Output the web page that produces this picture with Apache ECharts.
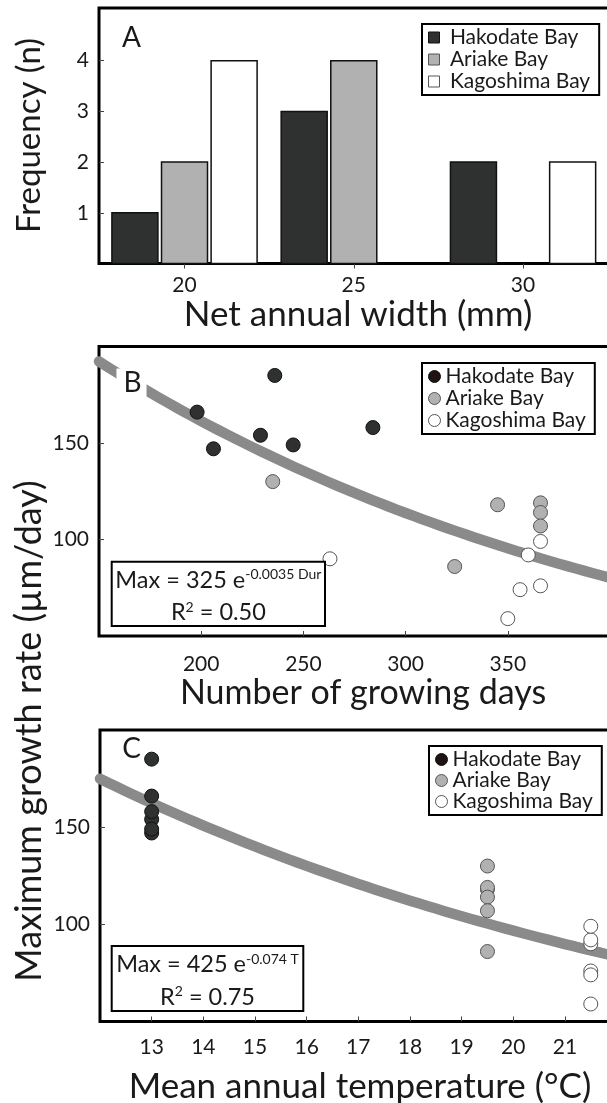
<!DOCTYPE html>
<html>
<head>
<meta charset="utf-8">
<script src="https://cdn.jsdelivr.net/npm/echarts@6/dist/echarts.min.js"></script>
<style>
  html, body { margin: 0; padding: 0; background: #fff; }
  #chart { width: 607px; height: 1103px; }
</style>
</head>
<body>
<div id="chart"></div>
<script>
// ---- Panel A: frequency of net annual width ----
const widthBins = [20, 25, 30];
const hakodateCounts = [1, 3, 2];
const ariakeCounts = [2, 4, 0];
const kagoshimaCounts = [4, 0, 2];
const countTicks = [1, 2, 3, 4];

// ---- Panels B & C: maximum growth rate (µm/day) per specimen ----
const hakodateRate = [166, 147, 185, 154, 149, 158];
const hakodateDays = [198, 206, 236, 229, 245, 284];
const ariakeRate = [130, 118, 86, 119, 114, 107];
const ariakeDays = [235, 345, 324, 366, 366, 366];
const kagoshimaRate = [90, 92, 99, 76, 74, 59];
const kagoshimaDays = [263, 360, 366, 366, 356, 350];
// mean annual temperature of each bay (°C): Hakodate, Ariake, Kagoshima
const siteTemp = [13, 19.5, 21.5];

const dayTicks = [200, 250, 300, 350];
const tempTicks = [13, 14, 15, 16, 17, 18, 19, 20, 21];
const rateTicks = [100, 150];

// exponential regressions: Max = a * e^(k * x)
const fitDays = [325, -0.0035];
const fitDaysR2 = '0.50';
const fitTemp = [425, -0.074];
const fitTempR2 = '0.75';

const FONT = 'Lato';
const INK = '#1a1a1a';
const C_HAK = '#2f3130';
const C_ARI = '#b1b1b1';
const C_KAG = '#ffffff';

// grouped bar geometry (pixels)
const BAR_W = 46;
const BAR_PITCH = 49.6;

function fitCurve(coef, lo, hi, steps) {
  const pts = [];
  for (let i = 0; i <= steps; i++) {
    const x = lo + (hi - lo) * i / steps;
    pts.push([x, coef[0] * Math.exp(coef[1] * x)]);
  }
  return pts;
}
const pairs = (xs, ys) => xs.map((x, i) => [x, ys[i]]);

function xAx(grid, min, max, ticks, inside, margin) {
  return {
    gridIndex: grid, type: 'value', min: min, max: max,
    axisLine: { show: false },
    splitLine: { show: false },
    axisTick: { show: true, inside: inside, length: 5, customValues: ticks,
                lineStyle: { color: '#444', width: 1 } },
    axisLabel: { customValues: ticks, margin: margin, fontFamily: FONT,
                 fontSize: 21, color: INK }
  };
}
function yAx(grid, min, max, ticks) {
  return {
    gridIndex: grid, type: 'value', min: min, max: max,
    axisLine: { show: false },
    splitLine: { show: false },
    axisTick: { show: true, inside: true, length: 5, customValues: ticks,
                lineStyle: { color: '#444', width: 1 } },
    axisLabel: { customValues: ticks, margin: 10, fontFamily: FONT,
                 fontSize: 21, color: INK }
  };
}

// plot frames run past the right edge of the page, so keep their exact size
const gridStyle = { show: true, borderColor: '#000', borderWidth: 3, backgroundColor: 'transparent',
                    containLabel: false, outerBoundsMode: 'none' };

// one bar per bin, shifted sideways by its slot in the group (-1, 0, +1)
function barSeries(name, counts, color, slot) {
  return {
    type: 'custom', name: name, xAxisIndex: 0, yAxisIndex: 0,
    data: pairs(widthBins, counts),
    encode: { x: 0, y: 1 },
    renderItem: function (params, api) {
      const v = api.value(1);
      if (!v) return null;
      const base = api.coord([api.value(0), 0]);
      const top = api.coord([api.value(0), v]);
      const cx = base[0] + slot * BAR_PITCH;
      return {
        type: 'rect',
        shape: { x: cx - BAR_W / 2, y: top[1], width: BAR_W, height: base[1] - top[1] },
        style: { fill: color, stroke: '#111', lineWidth: 1.5 }
      };
    }
  };
}
function dotSeries(name, grid, data, color, border) {
  return {
    type: 'scatter', name: name, xAxisIndex: grid, yAxisIndex: grid,
    data: data, symbol: 'circle', symbolSize: 14, z: 3,
    itemStyle: { color: color, borderColor: border, borderWidth: 1, opacity: 1 }
  };
}
function fitSeries(grid, data) {
  return {
    type: 'line', xAxisIndex: grid, yAxisIndex: grid, data: data,
    showSymbol: false, symbol: 'none', clip: false, silent: true, z: 2,
    lineStyle: { color: '#8a8a8a', width: 10.5, cap: 'round', join: 'round' }
  };
}

const dotLegendData = [
  { name: 'Hakodate Bay', icon: 'circle', itemStyle: { color: '#1e1212', borderColor: '#111', borderWidth: 1 } },
  { name: 'Ariake Bay', icon: 'circle', itemStyle: { color: C_ARI, borderColor: '#555', borderWidth: 1 } },
  { name: 'Kagoshima Bay', icon: 'circle', itemStyle: { color: C_KAG, borderColor: '#555', borderWidth: 1 } }
];
function legendBox(left, top, data, gap, extra) {
  return Object.assign({
    orient: 'vertical', left: left, top: top, data: data,
    backgroundColor: '#fff', borderColor: '#000', borderWidth: 2,
    padding: [3, 9, 3, 6], itemGap: gap, itemWidth: 12, itemHeight: 12,
    textStyle: { fontFamily: FONT, fontSize: 21, lineHeight: 21, color: INK },
    selectedMode: false
  }, extra || {});
}

function label(text, x, y, size) {
  return { type: 'text', x: x, y: y, z: 100,
    style: { text: text, fontFamily: FONT, fontSize: size, fill: INK,
             align: 'center', verticalAlign: 'middle' } };
}
function vLabel(text, x, y, size) {
  return { type: 'text', x: x, y: y, rotation: Math.PI / 2, z: 100,
    style: { text: text, fontFamily: FONT, fontSize: size, fill: INK,
             align: 'center', verticalAlign: 'middle' } };
}
function eqBox(x, y, w, h, coef, unit, r2) {
  const rich = {
    m: { fontFamily: FONT, fontSize: 23.5, lineHeight: 27, fill: INK },
    s: { fontFamily: FONT, fontSize: 14, lineHeight: 27, fill: INK, verticalAlign: 'top', padding: [1, 0, 0, 0] }
  };
  return [
    { type: 'rect', z: 100, shape: { x: x, y: y, width: w, height: h },
      style: { fill: '#fff', stroke: '#000', lineWidth: 2 } },
    { type: 'text', z: 101, x: x + w / 2, y: y + h * 0.29,
      style: { text: '{m|Max = ' + coef[0] + ' e}{s|' + coef[1] + ' ' + unit + '}',
               rich: rich, align: 'center', verticalAlign: 'middle' } },
    { type: 'text', z: 101, x: x + w / 2, y: y + h * 0.79,
      style: { text: '{m|R}{s|2}{m| = ' + r2 + '}',
               rich: rich, align: 'center', verticalAlign: 'middle' } }
  ];
}

const option = {
  animation: false,
  backgroundColor: '#fff',
  textStyle: { fontFamily: FONT },
  grid: [
    Object.assign({ left: 99, top: 8, width: 530, height: 255.5 }, gridStyle),
    Object.assign({ left: 99, top: 346.5, width: 511, height: 289.5 }, gridStyle),
    Object.assign({ left: 100, top: 730, width: 516.6, height: 291.5 }, gridStyle)
  ],
  xAxis: [
    xAx(0, 17.474, 33.13, widthBins, false, 11),
    xAx(1, 150, 400, dayTicks, true, 18),
    xAx(2, 12, 22, tempTicks, true, 15)
  ],
  yAxis: [
    yAx(0, 0, 5.04, countTicks),
    yAx(1, 50, 200, rateTicks),
    yAx(2, 50, 200, rateTicks)
  ],
  legend: [
    legendBox(422, 24, [
      { name: 'Hakodate Bay', icon: 'rect', itemStyle: { color: C_HAK, borderColor: '#111', borderWidth: 1 } },
      { name: 'Ariake Bay', icon: 'rect', itemStyle: { color: C_ARI, borderColor: '#555', borderWidth: 1 } },
      { name: 'Kagoshima Bay', icon: 'rect', itemStyle: { color: C_KAG, borderColor: '#555', borderWidth: 1 } }
    ], 1, { itemWidth: 11, itemHeight: 11, formatter: ' {name}' }),
    legendBox(422, 363, dotLegendData, 1),
    legendBox(429, 746, dotLegendData, 0)
  ],
  graphic: [
    label('A', 131.5, 37.5, 28),
    { type: 'text', x: 131.5, y: 382.5, z: 100,
      style: { text: 'B', fontFamily: FONT, fontSize: 28, fill: INK, align: 'center',
               verticalAlign: 'middle', backgroundColor: '#fff', padding: [0, 5, 0, 7] } },
    label('C', 131.5, 748.5, 28),
    vLabel('Frequency (n)', 29, 135.5, 33),
    vLabel('Maximum growth rate (µm/day)', 29, 731, 36),
    label('Net annual width (mm)', 358, 315, 35),
    label('Number of growing days', 363, 693, 34),
    label('Mean annual temperature (°C)', 360, 1087, 35)
  ].concat(
    eqBox(111.7, 561.7, 213.3, 64.3, fitDays, 'Dur', fitDaysR2),
    eqBox(111.7, 946, 191.6, 65, fitTemp, 'T', fitTempR2)
  ),
  series: [
    barSeries('Hakodate Bay', hakodateCounts, C_HAK, -1),
    barSeries('Ariake Bay', ariakeCounts, C_ARI, 0),
    barSeries('Kagoshima Bay', kagoshimaCounts, C_KAG, 1),

    fitSeries(1, fitCurve(fitDays, 150, 400, 60)),
    dotSeries('Hakodate Bay', 1, pairs(hakodateDays, hakodateRate), C_HAK, '#111'),
    dotSeries('Ariake Bay', 1, pairs(ariakeDays, ariakeRate), C_ARI, '#555'),
    dotSeries('Kagoshima Bay', 1, pairs(kagoshimaDays, kagoshimaRate), C_KAG, '#555'),

    fitSeries(2, fitCurve(fitTemp, 12, 22, 60)),
    dotSeries('Hakodate Bay', 2, hakodateRate.map(v => [siteTemp[0], v]), C_HAK, '#111'),
    dotSeries('Ariake Bay', 2, ariakeRate.map(v => [siteTemp[1], v]), C_ARI, '#555'),
    dotSeries('Kagoshima Bay', 2, kagoshimaRate.map(v => [siteTemp[2], v]), C_KAG, '#555')
  ]
};

const chart = echarts.init(document.getElementById('chart'), null, { renderer: 'canvas' });
chart.setOption(option);
</script>
</body>
</html>
